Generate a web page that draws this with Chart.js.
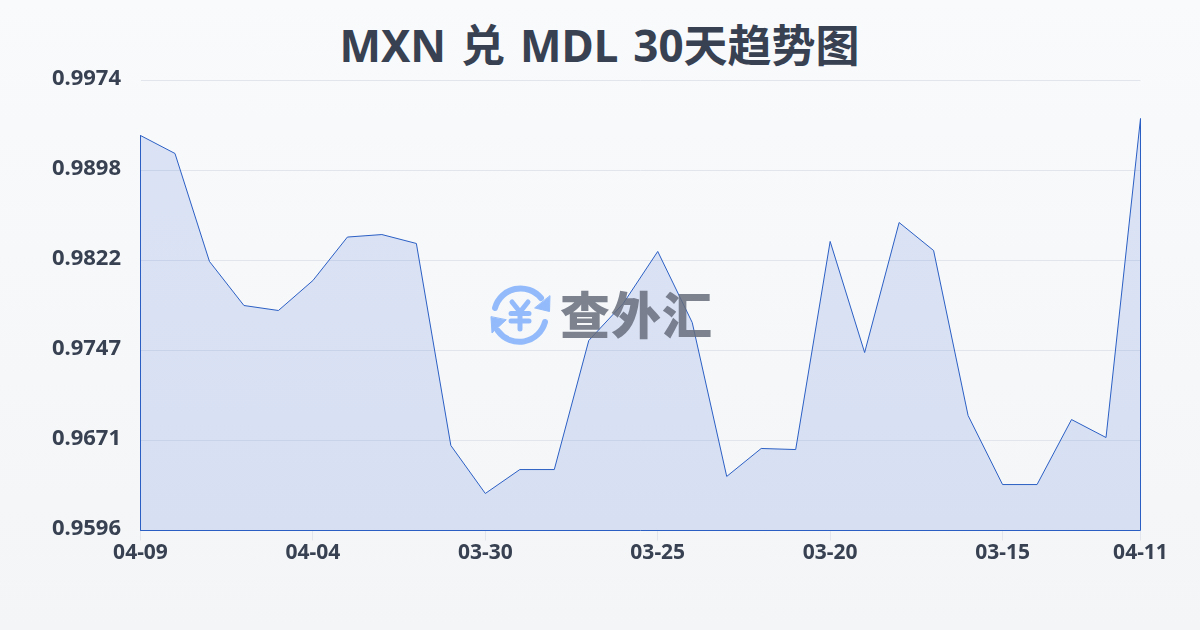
<!DOCTYPE html>
<html>
<head>
<meta charset="utf-8">
<script src="https://cdn.jsdelivr.net/npm/chart.js@4"></script>
<style>
    html, body { margin: 0; padding: 0; }
    body { width: 1200px; height: 630px; overflow: hidden; position: relative;
           background: linear-gradient(180deg, #f9fafc 0%, #f3f5f7 100%); }
    #logo { position: absolute; left: 0; top: 0; }
    #logoText { position: absolute; left: 560px; top: 282px; font: 900 50px/1.2 "Noto Sans CJK SC"; color: rgba(103, 109, 123, 0.85); white-space: nowrap; letter-spacing: 1px; }
    h1 { position: absolute; left: 0; top: 15px; width: 1199px; margin: 0; text-align: center; color: #374151;
         font: 700 44px/60px "Noto Sans", "Noto Sans CJK SC"; word-spacing: 3.5px; }
    canvas { position: absolute; left: 0; top: 0; }
</style>
</head>
<body>
<svg id="logo" width="1200" height="630" fill="none" stroke="#93bbfb" stroke-linecap="round" stroke-linejoin="round">
    <path d="M495 308 A26.5 26.5 0 0 1 541 298" stroke-width="6"/>
    <path d="M545 322 A26.5 26.5 0 0 1 498 331" stroke-width="6"/>
    <path d="M550 296 L549.5 311.5 L535 308 Z" fill="#93bbfb" stroke-width="1"/>
    <path d="M491 317 L492 333 L506 320 Z" fill="#93bbfb" stroke-width="1"/>
    <path d="M512 302 L520 312 L528 302 M520 312 V329 M511 313.5 H529 M511 321 H529" stroke-width="5"/>
</svg>
<h1>MXN 兑 MDL 30天趋势图</h1>
<canvas id="rateChart" width="1200" height="630"></canvas>
<div id="logoText">查外汇</div>
<script>
const categories = ['04-09', '04-08', '04-07', '04-06', '04-05', '04-04', '04-03', '04-02', '04-01', '03-31',
    '03-30', '03-29', '03-28', '03-27', '03-26', '03-25', '03-24', '03-23', '03-22', '03-21',
    '03-20', '03-19', '03-18', '03-17', '03-16', '03-15', '03-14', '03-13', '03-12', '04-11'];
const rates = [0.99278, 0.99127, 0.98220, 0.97850, 0.97808, 0.98060, 0.98425, 0.98446, 0.98371, 0.96674,
    0.96271, 0.96472, 0.96472, 0.97556, 0.97867, 0.98304, 0.97707, 0.96414, 0.96649, 0.96640,
    0.98388, 0.97455, 0.98547, 0.98312, 0.96926, 0.96346, 0.96346, 0.96892, 0.96741, 0.99421];
const yTickLabels = ['0.9596', '0.9671', '0.9747', '0.9822', '0.9898', '0.9974'];
const xTickIndexes = [0, 5, 10, 15, 20, 25, 29];
const yMin = 0.9596;
const yMax = 0.9974;

const first = categories[0];
const last = categories[categories.length - 1];

// y labels sit a little above their grid line
const liftYLabels = {
    id: 'liftYLabels',
    beforeDraw(chart) {
        chart.scales.y.getLabelItems().forEach(item => { item.options.translation[1] -= 1.5; });
    }
};

new Chart(document.getElementById('rateChart').getContext('2d'), {
    type: 'line',
    plugins: [liftYLabels],
    data: {
        labels: categories,
        datasets: [{
            data: rates,
            borderColor: '#2b5fc4',
            borderWidth: 1,
            backgroundColor: 'rgba(40, 95, 215, 0.14)',
            fill: 'start',
            tension: 0,
            pointRadius: 0
        }, {
            // sides and bottom of the filled area
            data: [
                { x: first, y: rates[0] },
                { x: first, y: yMin },
                { x: last, y: yMin },
                { x: last, y: rates[rates.length - 1] }
            ],
            borderColor: '#2b5fc4',
            borderWidth: 1,
            fill: false,
            tension: 0,
            pointRadius: 0,
            clip: false
        }]
    },
    options: {
        responsive: false,
        animation: false,
        layout: { padding: { top: 80.5, right: 59.5, bottom: 0, left: 0 } },
        plugins: {
            legend: { display: false },
            tooltip: { enabled: false }
        },
        scales: {
            x: {
                afterFit: scale => { scale.height = 99.5; },
                afterBuildTicks: scale => {
                    scale.ticks = xTickIndexes.map(i => ({ value: i }));
                },
                grid: { drawOnChartArea: false, drawTicks: true, tickLength: 10, color: '#e2e6ec' },
                border: { display: false },
                ticks: {
                    autoSkip: false,
                    maxRotation: 0,
                    padding: 0,
                    color: '#374151',
                    font: { family: '"Noto Sans"', size: 21, weight: '700' },
                    callback: value => categories[value]
                }
            },
            y: {
                min: yMin,
                max: yMax,
                afterFit: scale => { scale.width = 140.5; },
                afterBuildTicks: scale => {
                    scale.ticks = yTickLabels.map((_, i) => ({ value: yMin + i * (yMax - yMin) / 5 }));
                },
                grid: { drawTicks: false, color: '#e2e6ec' },
                border: { display: false },
                ticks: {
                    padding: 19.5,
                    color: '#374151',
                    font: { family: '"Noto Sans"', size: 22, weight: '700' },
                    callback: (value, index) => yTickLabels[index]
                }
            }
        }
    }
});
</script>
</body>
</html>
